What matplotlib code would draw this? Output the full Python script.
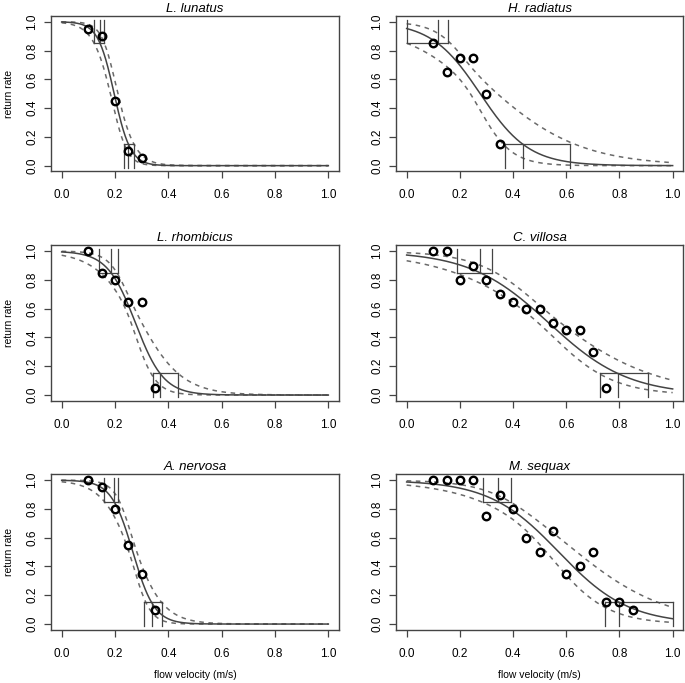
import numpy as np
import matplotlib
matplotlib.use("Agg")
import matplotlib.pyplot as plt

plt.rcParams['font.family'] = ['Liberation Sans', 'DejaVu Sans']

species = ["L. lunatus", "H. radiatus", "L. rhombicus", "C. villosa", "A. nervosa", "M. sequax"]

# observed return rates
x_lunatus = [0.10, 0.15, 0.20, 0.25, 0.30]
y_lunatus = [0.95, 0.90, 0.45, 0.10, 0.05]
x_radiatus = [0.10, 0.15, 0.20, 0.25, 0.30, 0.35]
y_radiatus = [0.85, 0.65, 0.75, 0.75, 0.50, 0.15]
x_rhombicus = [0.10, 0.15, 0.20, 0.25, 0.30, 0.35]
y_rhombicus = [1.00, 0.85, 0.80, 0.65, 0.65, 0.05]
x_villosa = [0.10, 0.15, 0.20, 0.25, 0.30, 0.35, 0.40, 0.45, 0.50, 0.55, 0.60, 0.65, 0.70, 0.75]
y_villosa = [1.00, 1.00, 0.80, 0.90, 0.80, 0.70, 0.65, 0.60, 0.60, 0.50, 0.45, 0.45, 0.30, 0.05]
x_nervosa = [0.10, 0.15, 0.20, 0.25, 0.30, 0.35]
y_nervosa = [1.00, 0.95, 0.80, 0.55, 0.35, 0.10]
x_sequax = [0.10, 0.15, 0.20, 0.25, 0.30, 0.35, 0.40, 0.45, 0.50, 0.55, 0.60, 0.65, 0.70, 0.75, 0.80, 0.85]
y_sequax = [1.00, 1.00, 1.00, 1.00, 0.75, 0.90, 0.80, 0.60, 0.50, 0.65, 0.35, 0.40, 0.50, 0.15, 0.15, 0.10]

obs_x = [x_lunatus, x_radiatus, x_rhombicus, x_villosa, x_nervosa, x_sequax]
obs_y = [y_lunatus, y_radiatus, y_rhombicus, y_villosa, y_nervosa, y_sequax]

# logistic fit (link scale: intercept, slope)
fit_intercept = [6.44, 3.008, 5.224, 3.585, 6.595, 4.353]
fit_slope = [-32.7, -10.88, -18.86, -6.70, -24.7, -7.61]
# confidence band half-width on link scale: sqrt(se_a + se_b*(x - se_c)^2)
se_a = [0.20, 0.16, 0.09, 0.07, 0.12, 0.10]
se_b = [52.0, 27.0, 44.0, 3.3, 62.0, 4.6]
se_c = [0.20, 0.23, 0.25, 0.50, 0.265, 0.45]

# threshold velocities at 85% and 15% return rate: [lower CI, estimate, upper CI]
thr85 = [[0.121, 0.144, 0.160], [0.0, 0.117, 0.156], [0.140, 0.185, 0.210],
         [0.190, 0.276, 0.322], [0.160, 0.197, 0.210], [0.288, 0.344, 0.392]]
thr15 = [[0.235, 0.250, 0.270], [0.370, 0.436, 0.614], [0.3435, 0.369, 0.435],
         [0.728, 0.794, 0.909], [0.310, 0.3375, 0.375], [0.745, 0.800, 1.0]]
level_hi = 0.85
level_lo = 0.15

W, H = 685, 683
fig = plt.figure(figsize=(W / 100, H / 100), dpi=100)

col_x = [51 / W, 396 / W]
col_w = [288 / W, 287.3 / W]
row_b = [1 - 171.4 / H, 1 - 400.8 / H, 1 - 629.8 / H]
row_h = 155.4 / H

xs = np.linspace(0, 1, 400)
frame_col = '#444444'
curve_col = '#444444'
dash_col = '#6a6a6a'

for i, name in enumerate(species):
    r, c = divmod(i, 2)
    ax = fig.add_axes([col_x[c], row_b[r], col_w[c], row_h])
    ax.set_xlim(-0.04, 1.04)
    ax.set_ylim(-0.04, 1.04)

    eta = fit_intercept[i] + fit_slope[i] * xs
    w = np.sqrt(se_a[i] + se_b[i] * (xs - se_c[i]) ** 2)
    p = 1 / (1 + np.exp(-eta))
    pu = 1 / (1 + np.exp(-(eta + w)))
    pl = 1 / (1 + np.exp(-(eta - w)))
    ax.plot(xs, p, color=curve_col, lw=1.1, zorder=3)
    ax.plot(xs, pu, color=dash_col, lw=1.1, ls=(0, (3, 3)), zorder=2)
    ax.plot(xs, pl, color=dash_col, lw=1.1, ls=(0, (3, 3)), zorder=2)

    # threshold boxes
    t = thr85[i]
    ax.plot([t[0], t[2]], [level_hi, level_hi], color=frame_col, lw=0.9, zorder=2)
    for xv in t:
        ax.plot([xv, xv], [level_hi, 1.015], color=frame_col, lw=0.9, zorder=2)
    t = thr15[i]
    ax.plot([t[0], t[2]], [level_lo, level_lo], color=frame_col, lw=0.9, zorder=2)
    for xv in t:
        ax.plot([xv, xv], [-0.015, level_lo], color=frame_col, lw=0.9, zorder=2)

    ax.plot(obs_x[i], obs_y[i], 'o', mfc='none', mec='black', ms=5.4, mew=1.7, zorder=4)

    ticks = [0.0, 0.2, 0.4, 0.6, 0.8, 1.0]
    ax.set_xticks(ticks)
    ax.set_yticks(ticks)
    ax.set_xticklabels([f"{v:.1f}" for v in ticks], fontsize=8.5)
    ax.set_yticklabels([f"{v:.1f}" for v in ticks], fontsize=8.5, rotation=90, va='center')
    ax.tick_params(direction='out', length=5, width=0.9, color=frame_col)
    ax.tick_params(axis='x', pad=8)
    ax.tick_params(axis='y', pad=4)
    for s in ax.spines.values():
        s.set_color(frame_col)
        s.set_linewidth(1.0)
    ax.set_title(name, fontsize=9.5, style='italic', pad=3)
    if c == 0:
        ax.set_ylabel("return rate", fontsize=7.5, labelpad=9)
    if r == 2:
        ax.text(0.5, -0.292, "flow velocity (m/s)", transform=ax.transAxes,
                fontsize=7.5, ha='center', va='center')

fig.savefig("out.png", dpi=100)
